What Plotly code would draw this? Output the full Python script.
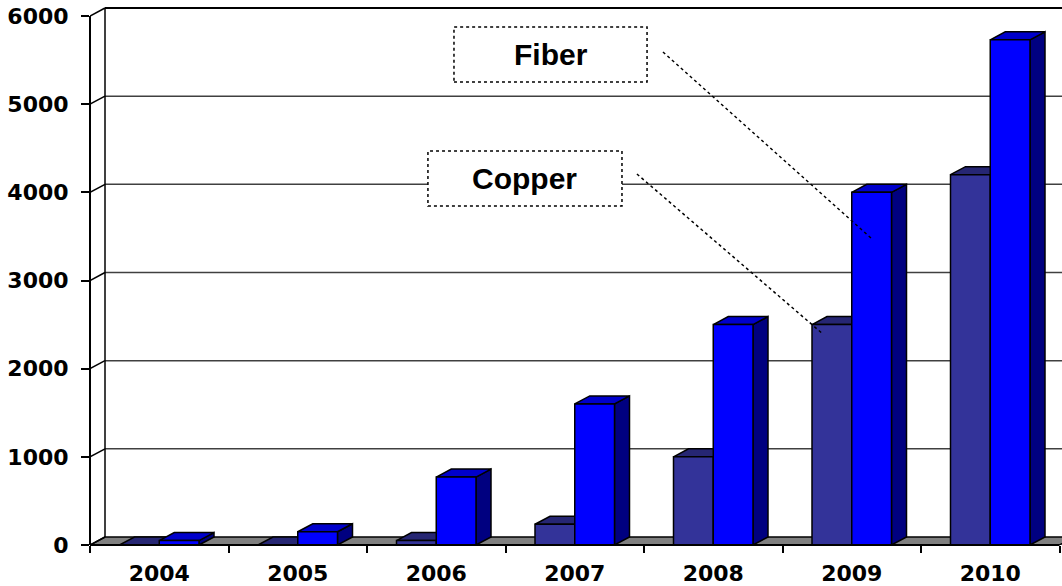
import plotly.graph_objects as go

# ---- data -------------------------------------------------------------
years = ["2004", "2005", "2006", "2007", "2008", "2009", "2010"]
copper = [0, 0, 50, 235, 1000, 2500, 4200]
fiber = [50, 150, 770, 1600, 2500, 4000, 5730]
y_ticks = [0, 1000, 2000, 3000, 4000, 5000, 6000]

# ---- geometry of the pseudo-3D frame ------------------------------------
W, H = 1062, 586
ML, MR, MT, MB = 90, 0, 5, 41
PX_PER_CAT = 138.5            # pixels per category slot
PX_PER_UNIT = 529 / 6000      # pixels per value unit on the front plane
DEPTH_PX = (15, 8)            # depth offset of the back plane (right, up)

plot_w = W - ML - MR
plot_h = H - MT - MB
x_range = [-0.5, -0.5 + plot_w / PX_PER_CAT]
y_range = [0, plot_h / PX_PER_UNIT]
DX = DEPTH_PX[0] / PX_PER_CAT
DY = DEPTH_PX[1] / PX_PER_UNIT
BAR_W = 0.287
X_LEFT, X_RIGHT = -0.5, len(years) - 0.5

COPPER_FRONT, COPPER_TOP, COPPER_SIDE = "#333399", "#262673", "#1a1a4d"
FIBER_FRONT, FIBER_TOP, FIBER_SIDE = "#0000FF", "#0000CC", "#000080"
FLOOR = "#808080"
EDGE = dict(color="black", width=1.5)

shapes = []


def line(x0, y0, x1, y1, color="black", width=1.5, dash="solid",
         xref="x", yref="y", layer="below"):
    shapes.append(dict(type="line", x0=x0, y0=y0, x1=x1, y1=y1,
                       xref=xref, yref=yref, layer=layer,
                       line=dict(color=color, width=width, dash=dash)))


def poly(points, fill):
    d = "M " + " L ".join(f"{px},{py}" for px, py in points) + " Z"
    shapes.append(dict(type="path", path=d, xref="x", yref="y",
                       layer="below", fillcolor=fill, line=EDGE))


# back wall gridlines (the top one is the wall's upper border)
for v in y_ticks[1:]:
    is_top = v == y_ticks[-1]
    line(X_LEFT + DX, v + DY, x_range[1] + 1, v + DY,
         color="black" if is_top else "#404040", width=2 if is_top else 1.5)

# left wall edge
line(X_LEFT + DX, DY, X_LEFT + DX, y_ticks[-1] + DY)

# floor
poly([(X_LEFT, 0), (X_RIGHT, 0), (X_RIGHT + DX, DY), (X_LEFT + DX, DY)], FLOOR)

# depth connectors from the front value axis to the back wall
for v in y_ticks:
    line(X_LEFT, v, X_LEFT + DX, v + DY)

# side and top faces of every bar (front faces are the bar traces)
series = [(copper, -BAR_W, COPPER_TOP, COPPER_SIDE),
          (fiber, 0.0, FIBER_TOP, FIBER_SIDE)]
for i in range(len(years)):
    for values, off, top_c, side_c in series:
        v = values[i]
        x0 = i + off
        x1 = x0 + BAR_W
        poly([(x1, 0), (x1 + DX, DY), (x1 + DX, v + DY), (x1, v)], side_c)
        poly([(x0, v), (x1, v), (x1 + DX, v + DY), (x0 + DX, v + DY)], top_c)

# front axis lines
line(0, 0, 0, y_ticks[-1], width=2, xref="paper", yref="y", layer="above")
line(X_LEFT, 0, X_RIGHT, 0, width=2, xref="x", yref="paper", layer="above")

# callout boxes and leader lines
callouts = [
    # text, box (x0, x1, y0, y1), leader (x0, y0, x1, y1)
    ("Fiber", (2.128, 3.522, 5251, 5875), (3.637, 5592, 5.139, 3482)),
    ("Copper", (1.940, 3.341, 3845, 4469), (3.449, 4208, 4.792, 2393)),
]
annotations = []
for text, (bx0, bx1, by0, by1), (lx0, ly0, lx1, ly1) in callouts:
    shapes.append(dict(type="rect", x0=bx0, x1=bx1, y0=by0, y1=by1,
                       xref="x", yref="y", layer="above", fillcolor="white",
                       line=dict(color="black", width=1.5, dash="dot")))
    line(lx0, ly0, lx1, ly1, width=1.5, dash="dot", layer="above")
    annotations.append(dict(x=(bx0 + bx1) / 2, y=(by0 + by1) / 2,
                            xref="x", yref="y", text=text, showarrow=False,
                            font=dict(family="Liberation Sans", size=30,
                                      color="black", weight="bold")))

x_idx = list(range(len(years)))
fig = go.Figure()
fig.add_trace(go.Bar(x=x_idx, y=copper, width=BAR_W, offset=-BAR_W,
                     marker=dict(color=COPPER_FRONT, line=EDGE),
                     name="Copper", showlegend=False))
fig.add_trace(go.Bar(x=x_idx, y=fiber, width=BAR_W, offset=0,
                     marker=dict(color=FIBER_FRONT, line=EDGE),
                     name="Fiber", showlegend=False))

tick_font = dict(family="DejaVu Sans", size=22, color="black", weight="bold")
fig.update_layout(
    width=W, height=H,
    margin=dict(l=ML, r=MR, t=MT, b=MB, pad=0),
    paper_bgcolor="white", plot_bgcolor="white",
    shapes=shapes, annotations=annotations,
    xaxis=dict(range=x_range, tickmode="array", tickvals=x_idx,
               ticktext=years, ticks="", showgrid=False, zeroline=False,
               showline=False, tickfont=tick_font, ticklabelstandoff=13,
               minor=dict(ticks="outside", tickmode="array",
                          tickvals=[k - 0.5 for k in range(len(years) + 1)],
                          ticklen=7, tickwidth=1.5, tickcolor="black",
                          showgrid=False)),
    yaxis=dict(range=y_range, tickmode="array", tickvals=y_ticks,
               ticks="outside", ticklen=8, tickwidth=1.5, tickcolor="black",
               showgrid=False, zeroline=False, showline=False,
               tickfont=tick_font, ticklabelstandoff=8),
)

fig.write_html("out.html")
